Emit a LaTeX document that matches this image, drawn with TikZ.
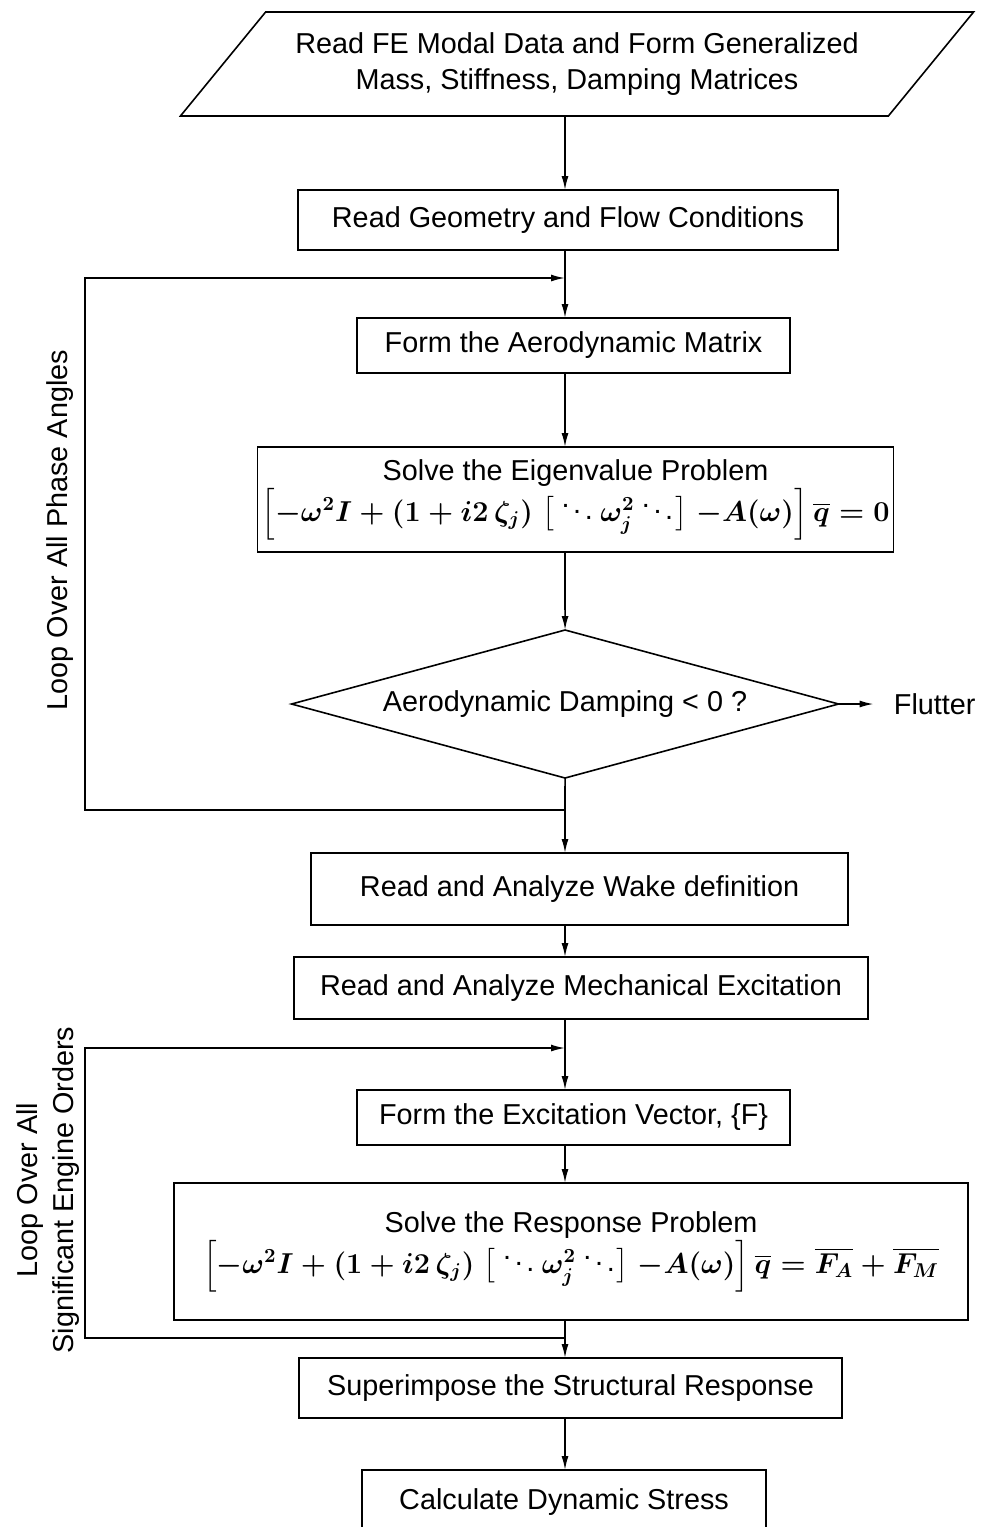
\documentclass[tikz,border=0pt]{standalone}
\usepackage{amsmath}
\usepackage{amssymb}
\usepackage{fontspec}
\setmainfont{Liberation Sans}
\usepackage{tikz}
\usetikzlibrary{arrows.meta,positioning,shapes.geometric}

\newcommand{\gapm}{\mskip\thickmuskip}
\newcommand{\eqlhs}{\Bigl[-\omega^2 I + (1 + i2\,\zeta_j)\gapm\bigl[\,\ddots\omega_j^2\ddots\bigr]\gapm\mathord{-}A(\omega)\Bigr]\,\overline{q}}
\newcommand{\eqeig}{{\boldmath$\eqlhs = 0$}}
\newcommand{\eqresp}{{\boldmath$\eqlhs = \overline{F_A} + \overline{F_M}$}}

\begin{document}
\begin{tikzpicture}[
    x=0.5pt, y=-0.5pt,
    every node/.style={font=\fontsize{14.4}{18}\selectfont},
    box/.style={draw, line width=0.8pt, align=center, inner sep=2pt, outer sep=0pt},
    io/.style={draw, line width=0.8pt, align=center, outer sep=0pt, inner ysep=9pt, trapezium, trapezium left angle=51.4, trapezium right angle=128.6, trapezium stretches=true, minimum width=397.5pt, minimum height=52pt},
    decision/.style={draw, line width=0.8pt, outer sep=0pt, diamond, aspect=3.7, inner sep=0pt, minimum width=273.5pt, minimum height=74pt},
    looplabel/.style={rotate=90, align=center},
    arrow/.style={-{Latex[length=7pt,width=3.5pt]}, line width=0.8pt},
    line/.style={line width=0.8pt}
]
\useasboundingbox (0,0) rectangle (983,1527);

\node[io] (data) at (577,64) {Read FE Modal Data and Form Generalized\\Mass, Stiffness, Damping Matrices};
\node[box, minimum width=270pt, minimum height=30pt, below=37pt of data, xshift=-4.5pt] (geo) {Read Geometry and Flow Conditions};
\node[box, minimum width=216.5pt, minimum height=27.5pt, below=34pt of geo, xshift=2.75pt] (aero) {Form the Aerodynamic Matrix};
\node[box, minimum width=317.5pt, minimum height=52.5pt, below=37pt of aero, xshift=1pt] (eig) {Solve the Eigenvalue Problem\\\eqeig};
\node[decision, below=39pt of eig, xshift=-5.25pt] (damp) {Aerodynamic Damping < 0 ?};
\node[right=27.5pt of damp, inner sep=0pt] (flutter) {Flutter};
\node[box, minimum width=268.5pt, minimum height=36pt, below=37.5pt of damp, xshift=7.25pt] (wake) {Read and Analyze Wake definition};
\node[box, minimum width=287pt, minimum height=31pt, below=16pt of wake, xshift=0.75pt] (mech) {Read and Analyze Mechanical Excitation};
\node[box, minimum width=216.5pt, minimum height=27.5pt, below=35.5pt of mech, xshift=-3.75pt] (excit) {Form the Excitation Vector, \{F\}};
\node[box, minimum width=397pt, minimum height=68.5pt, below=19pt of excit, xshift=-1.25pt] (resp) {Solve the Response Problem\\\eqresp};
\node[box, minimum width=271.5pt, minimum height=30pt, below=19pt of resp, xshift=-0.25pt] (sup) {Superimpose the Structural Response};
\node[box, minimum width=202pt, minimum height=32pt, below=26pt of sup, xshift=-3.25pt] (stress) {Calculate Dynamic Stress};

\node[looplabel] (phaselbl) at (60,530) {Loop Over All Phase Angles};
\node[looplabel] (orderlbl) at (48,1190) {Loop Over All\\Significant Engine Orders};

\coordinate (trunk) at (565,0);
\coordinate (loopx) at (85,0);
\coordinate (ja) at (565,278);
\coordinate (jb) at (565,810);
\coordinate (jc) at (565,1048);
\coordinate (jd) at (565,1338);

\draw[arrow] (data.south -| trunk) -- (geo.north -| trunk);
\draw[arrow] (geo.south -| trunk) -- (aero.north -| trunk);
\draw[arrow] (aero.south -| trunk) -- (eig.north -| trunk);
\draw[arrow] (eig.south -| trunk) -- (damp.north);
\draw[arrow, shorten >=10pt] (damp.east) -- (flutter.west);
\draw[line] (damp.south) -- (jb);
\draw[arrow] (jb) -- (loopx |- jb) -- (loopx |- ja) -- (ja);
\draw[arrow] (jb) -- (wake.north -| trunk);
\draw[arrow] (wake.south -| trunk) -- (mech.north -| trunk);
\draw[arrow] (mech.south -| trunk) -- (excit.north -| trunk);
\draw[arrow] (excit.south -| trunk) -- (resp.north -| trunk);
\draw[arrow] (resp.south -| trunk) -- (sup.north -| trunk);
\draw[arrow] (jd) -- (loopx |- jd) -- (loopx |- jc) -- (jc);
\draw[arrow] (sup.south -| trunk) -- (stress.north -| trunk);
\end{tikzpicture}
\end{document}
